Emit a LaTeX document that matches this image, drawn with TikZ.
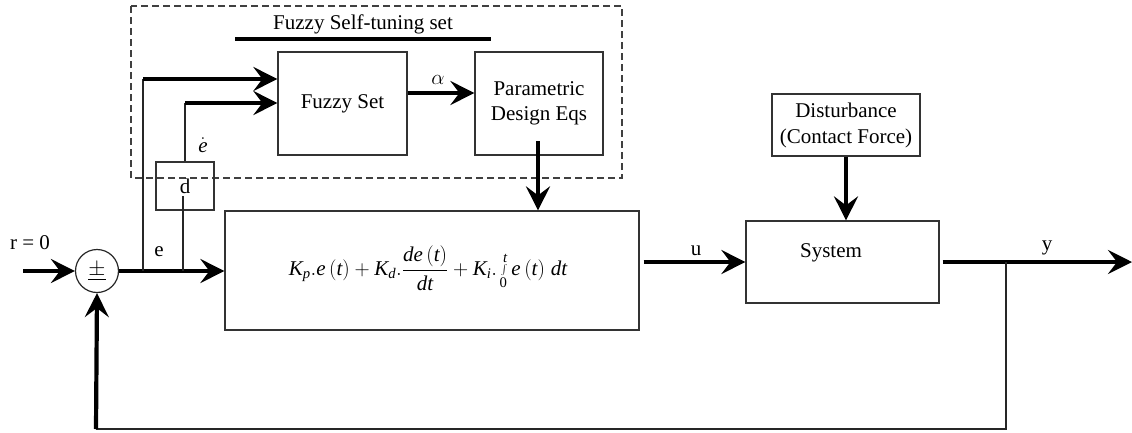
\RequirePackage{fix-cm}
\documentclass[tikz,border=0pt]{standalone}
\usepackage{fontspec}
\setmainfont{Liberation Serif}
\usetikzlibrary{arrows.meta}
\newcommand{\mv}[1]{\mathit{#1}}
\begin{document}
\begin{tikzpicture}[x=1pt,y=-1pt,
  box/.style={draw=black!80,line width=1.2pt,inner sep=0pt,align=center,font=\fontsize{21}{25}\selectfont},
  thk/.style={line width=4.2pt,-{Stealth[length=24pt,width=24pt,inset=9pt]}},
  thn/.style={line width=1.2pt,draw=black!85},
  lbl/.style={inner sep=0pt,font=\fontsize{21}{24}\selectfont}]
\useasboundingbox (0,0) rectangle (1132,432);
% dashed frame
\draw[black!75,line width=1.2pt,dash pattern=on 7pt off 4pt] (131,6) rectangle (622,178);
\node[lbl] (title) at (363,24) {Fuzzy Self-tuning set};
\draw[line width=3.5pt] (235,39) -- (491,39);
% blocks
\node[box,minimum width=129pt,minimum height=103pt] (fuzzy) at (342.5,103.5) {Fuzzy Set};
\node[box,minimum width=128pt,minimum height=103pt] (param) at (539,103.5) {Parametric\\Design Eqs};
\node[box,minimum width=58pt,minimum height=48pt] (dbox) at (185,186) {d};
\node[box,minimum width=414pt,minimum height=119pt] (ctrl) at (432,270.5) {};
\node[inner sep=0pt,font=\fontsize{21}{24}\selectfont] (eq) at (428,268)
  {$\mv{K}_{\mv{p}}.\mv{e}\,(\mv{t}) + \mv{K}_{\mv{d}}.{\displaystyle\frac{\mv{de}\,(\mv{t})}{\mv{dt}}} + \mv{K}_{\mv{i}}.\int\limits_{\mathrm{0}}^{\mv{t}} \mv{e}\,(\mv{t})\;\mv{dt}$};
\node[box,minimum width=193pt,minimum height=82pt] (sys) at (842.5,262) {};
\node[lbl] (systxt) at (831,253) {System};
\node[box,minimum width=148pt,minimum height=62pt,font=\fontsize{21}{26}\selectfont] (dist) at (846,125) {Disturbance\\(Contact Force)};
\node[draw=black!85,line width=1.2pt,circle,minimum size=43pt,inner sep=0pt,font=\fontsize{22}{24}\selectfont] (sum) at (97,271) {$\underline{\pm}$};
% labels
\node[lbl] (rlab) at (30,243) {r = 0};
\node[lbl] (elab) at (159,252) {e};
\node[lbl] (edot) at (203,145) {$\dot{\mv{e}}$};
\node[lbl] (alab) at (438,80) {$\alpha$};
\node[lbl] (ulab) at (696,251) {u};
\node[lbl] (ylab) at (1047,248) {y};
% coordinates
\coordinate (rin) at (23,271);
\coordinate (b1) at (143,271);
\coordinate (t1) at (143,79);
\coordinate (b2) at (183,271);
\coordinate (dl) at (183,196);
\coordinate (t2) at (185,103);
\coordinate (ps) at (538,141);
\coordinate (yout) at (1132,262);
\coordinate (fb) at (1006,262);
\coordinate (fbb) at (1006,429);
\coordinate (fbl) at (96,429);
% connectors
\draw[thk] (rin) -- (sum.west);
\draw[thk] (sum.east) -- (sum.east -| ctrl.west);
\draw[thn] (b1) -- (t1);
\draw[thk] (t1) -- (t1 -| fuzzy.west);
\draw[thn] (b2) -- (dl);
\draw[thn] (t2 |- dbox.north) -- (t2);
\draw[thk] (t2) -- (t2 -| fuzzy.west);
\draw[thk] ([yshift=10.5pt]fuzzy.east) -- ([yshift=10.5pt]param.west);
\draw[thk] (ps) -- (ps |- ctrl.north);
\draw[thk] ([xshift=4pt,yshift=8.5pt]ctrl.east) -- (sys.west);
\draw[thk] (dist.south) -- (dist.south |- sys.north);
\draw[thk] ([xshift=3pt]sys.east) -- (yout);
\draw[thn] (fb) -- (fbb) -- (fbl);
\draw[thk] (fbl) -- (sum.south);
\end{tikzpicture}
\end{document}
